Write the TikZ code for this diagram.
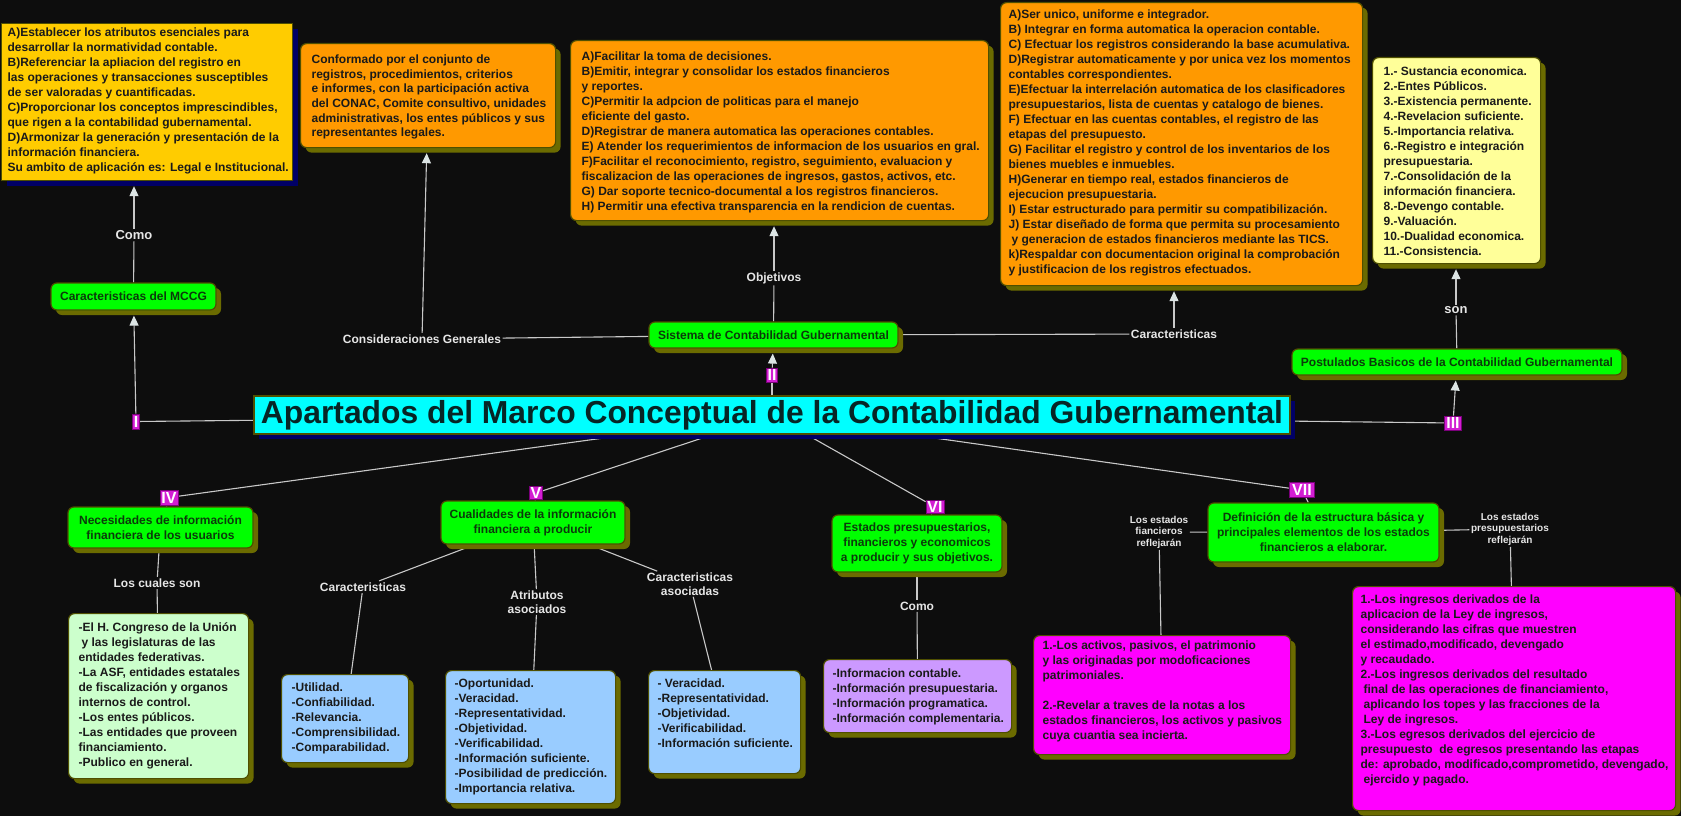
\documentclass[tikz,border=0pt]{standalone}
\usepackage{fontspec}
\usepackage{graphicx}
\setmainfont{Liberation Sans}
\usetikzlibrary{shadows,arrows.meta}
\pgfdeclarelayer{bgzero}
\pgfdeclarelayer{edges}
\pgfsetlayers{bgzero,edges,main}
\definecolor{bgc}{HTML}{0D0D0D}
\definecolor{yel}{HTML}{FFCC00}
\definecolor{ora}{HTML}{FF9900}
\definecolor{grn}{HTML}{00FF00}
\definecolor{lyel}{HTML}{FFFF99}
\definecolor{lgrn}{HTML}{CCFFCC}
\definecolor{lblu}{HTML}{99CCFF}
\definecolor{lavc}{HTML}{CC99FF}
\definecolor{mag}{HTML}{FF00FF}
\definecolor{cya}{HTML}{00FFFF}
\definecolor{numc}{HTML}{D21ED2}
\definecolor{numb}{HTML}{7A007A}
\definecolor{shol}{HTML}{6B6B00}
\definecolor{shnv}{HTML}{000066}
\definecolor{brd}{HTML}{4F4F00}
\definecolor{txd}{HTML}{1A1A1A}
\definecolor{txg}{HTML}{0B3B0B}
\definecolor{titc}{HTML}{062626}
\definecolor{linec}{HTML}{C8C8C8}
\definecolor{arrc}{HTML}{DCE4E4}
\definecolor{labc}{HTML}{E6E6E6}
\newcommand{\bxt}[3]{\makebox[#1][l]{\parbox[c][#2][t]{500pt}{\raggedright\rule{0pt}{10.5pt}#3}}}
\tikzset{
  tbox/.style={draw=brd, line width=1.2pt, rounded corners=6pt, inner sep=0pt, anchor=north west, text=txd,
    font=\bfseries\fontsize{12}{15}\selectfont, general shadow={fill=shol, shadow xshift=5pt, shadow yshift=-5pt}},
  gbox/.style={fill=grn, draw=brd, line width=1.2pt, rounded corners=6pt, inner sep=0pt, align=center, text=txg,
    font=\bfseries\fontsize{12}{15}\selectfont, general shadow={fill=shol, shadow xshift=5pt, shadow yshift=-5pt}},
  nbox/.style={fill=numc, draw=numb, line width=0.8pt, inner sep=0pt, text=white,
    font=\bfseries\fontsize{16}{16}\selectfont, text height=11.5pt, text depth=0pt},
  lbl/.style={text=labc, inner sep=1.5pt, align=center, font=\bfseries\fontsize{12}{13.5}\selectfont},
  slbl/.style={text=labc, inner sep=1.5pt, align=center, font=\bfseries\fontsize{10}{11.5}\selectfont},
  ed/.style={draw=linec, line width=1.1pt},
  arr/.style={ed, -{Triangle[width=9pt,length=10pt,fill=arrc,color=arrc]}, shorten >=5pt},
}
\begin{document}
\begin{tikzpicture}[x=1pt,y=-1pt]
\useasboundingbox (0,0) rectangle (1681,816);
\begin{pgfonlayer}{bgzero}
\fill[bgc] (0,0) rectangle (1681,816);
\end{pgfonlayer}

% title
\node[fill=cya, draw=brd, line width=1.5pt, minimum width=1036pt, minimum height=38pt, inner sep=0pt, text=titc,
  general shadow={fill=shnv, shadow xshift=5pt, shadow yshift=-5pt}] (title) at (772,415)
  {\resizebox{1022pt}{!}{\bfseries Apartados del Marco Conceptual de la Contabilidad Gubernamental}};

% top boxes
\node[tbox, fill=yel, rounded corners=0pt, inner xsep=6pt, inner ysep=2.8pt,
  general shadow={fill=shnv, shadow xshift=5pt, shadow yshift=-5pt}] (ybox) at (1,23)
  {\bxt{279pt}{151.4pt}{A)Establecer los atributos esenciales para\\
desarrollar la normatividad contable.\\
B)Referenciar la apliacion del registro en\\
las operaciones y transacciones susceptibles\\
de ser valoradas y cuantificadas.\\
C)Proporcionar los conceptos imprescindibles,\\
que rigen a la contabilidad gubernamental.\\
D)Armonizar la generación y presentación de la\\
información financiera.\\
Su ambito de aplicación es: Legal e Institucional.}};

\node[tbox, fill=ora, inner xsep=11pt, inner ysep=9.5pt, font=\bfseries\fontsize{12}{14.6}\selectfont] (box2) at (300,43)
  {\bxt{233pt}{85pt}{Conformado por el conjunto de\\
registros, procedimientos, criterios\\
e informes, con la participación activa\\
del CONAC, Comite consultivo, unidades\\
administrativas, los entes públicos y sus\\
representantes legales.}};

\node[tbox, fill=ora, inner xsep=11pt, inner ysep=9.5pt] (box3) at (570,40)
  {\bxt{396pt}{161pt}{A)Facilitar la toma de decisiones.\\
B)Emitir, integrar y consolidar los estados financieros\\
y reportes.\\
C)Permitir la adpcion de politicas para el manejo\\
eficiente del gasto.\\
D)Registrar de manera automatica las operaciones contables.\\
E) Atender los requerimientos de informacion de los usuarios en gral.\\
F)Facilitar el reconocimiento, registro, seguimiento, evaluacion y\\
fiscalizacion de las operaciones de ingresos, gastos, activos, etc.\\
G) Dar soporte tecnico-documental a los registros financieros.\\
H) Permitir una efectiva transparencia en la rendicion de cuentas.}};

\node[tbox, fill=ora, inner xsep=8pt, inner ysep=5.5pt] (box4) at (1000,2)
  {\bxt{346pt}{272pt}{A)Ser unico, uniforme e integrador.\\
B) Integrar en forma automatica la operacion contable.\\
C) Efectuar los registros considerando la base acumulativa.\\
D)Registrar automaticamente y por unica vez los momentos\\
contables correspondientes.\\
E)Efectuar la interrelación automatica de los clasificadores\\
presupuestarios, lista de cuentas y catalogo de bienes.\\
F) Efectuar en las cuentas contables, el registro de las\\
etapas del presupuesto.\\
G) Facilitar el registro y control de los inventarios de los\\
bienes muebles e inmuebles.\\
H)Generar en tiempo real, estados financieros de\\
ejecucion presupuestaria.\\
I) Estar estructurado para permitir su compatibilización.\\
J) Estar diseñado de forma que permita su procesamiento\\
\hspace*{3pt}y generacion de estados financieros mediante las TICS.\\
k)Respaldar con documentacion original la comprobación\\
y justificacion de los registros efectuados.}};

\node[tbox, fill=lyel, inner xsep=11pt, inner ysep=7.5pt] (box5) at (1372,57)
  {\bxt{146pt}{191pt}{1.- Sustancia economica.\\
2.-Entes Públicos.\\
3.-Existencia permanente.\\
4.-Revelacion suficiente.\\
5.-Importancia relativa.\\
6.-Registro e integración\\
presupuestaria.\\
7.-Consolidación de la\\
información financiera.\\
8.-Devengo contable.\\
9.-Valuación.\\
10.-Dualidad economica.\\
11.-Consistencia.}};

% green nodes
\node[gbox, minimum width=165pt, minimum height=27pt] (mccg) at (133.5,296.5) {Caracteristicas del MCCG};
\node[gbox, minimum width=249pt, minimum height=26pt] (sis) at (773.5,335) {Sistema de Contabilidad Gubernamental};
\node[gbox, minimum width=330pt, minimum height=26pt] (post) at (1457,362) {Postulados Basicos de la Contabilidad Gubernamental};
\node[gbox, minimum width=185pt, minimum height=41pt] (nec) at (160.5,527.5) {Necesidades de información\\financiera de los usuarios};
\node[gbox, minimum width=184pt, minimum height=43pt] (cual) at (533,522.5) {Cualidades de la información\\financiera a producir};
\node[gbox, minimum width=170pt, minimum height=57pt] (est) at (917,543.5) {Estados presupuestarios,\\financieros y economicos\\a producir y sus objetivos.};
\node[gbox, minimum width=231pt, minimum height=59pt] (def) at (1323.5,532.5) {Definición de la estructura básica y\\principales elementos de los estados\\financieros a elaborar.};

% numerals
\node[nbox, minimum width=7pt, minimum height=15pt] (nI) at (136,421.5) {I};
\node[nbox, minimum width=11pt, minimum height=14pt] (nII) at (772,375) {II};
\node[nbox, minimum width=17pt, minimum height=14pt] (nIII) at (1453,423) {III};
\node[nbox, minimum width=18pt, minimum height=15pt] (nIV) at (169,497.5) {IV};
\node[nbox, minimum width=13pt, minimum height=13pt] (nV) at (536,493) {V};
\node[nbox, minimum width=18pt, minimum height=13pt] (nVI) at (935,507) {VI};
\node[nbox, minimum width=25pt, minimum height=15pt] (nVII) at (1302,490) {VII};

% bottom boxes
\node[tbox, fill=lgrn, inner xsep=10pt, inner ysep=7.5pt] (lgbox) at (68,613)
  {\bxt{160pt}{150pt}{-El H. Congreso de la Unión\\
\hspace*{3pt}y las legislaturas de las\\
entidades federativas.\\
-La ASF, entidades estatales\\
de fiscalización y organos\\
internos de control.\\
-Los entes públicos.\\
-Las entidades que proveen\\
financiamiento.\\
-Publico en general.}};

\node[tbox, fill=lblu, inner xsep=10pt, inner ysep=6.5pt] (blue1) at (281,674)
  {\bxt{107pt}{75pt}{-Utilidad.\\-Confiabilidad.\\-Relevancia.\\-Comprensibilidad.\\-Comparabilidad.}};

\node[tbox, fill=lblu, inner xsep=9pt, inner ysep=6.5pt] (blue2) at (445,670)
  {\bxt{152pt}{120pt}{-Oportunidad.\\-Veracidad.\\-Representatividad.\\-Objetividad.\\-Verificabilidad.\\-Información suficiente.\\-Posibilidad de predicción.\\-Importancia relativa.}};

\node[tbox, fill=lblu, inner xsep=9pt, inner ysep=6.5pt] (blue3) at (648,670)
  {\bxt{134pt}{90pt}{- Veracidad.\\-Representatividad.\\-Objetividad.\\-Verificabilidad.\\-Información suficiente.}};

\node[tbox, fill=lavc, inner xsep=9pt, inner ysep=7.5pt] (lav) at (823,659)
  {\bxt{170pt}{58pt}{-Informacion contable.\\-Información presupuestaria.\\-Información programatica.\\-Información complementaria.}};

\node[tbox, fill=mag, inner xsep=9pt, inner ysep=3.5pt] (mag1) at (1033,635)
  {\bxt{239pt}{112pt}{1.-Los activos, pasivos, el patrimonio\\
y las originadas por modoficaciones\\
patrimoniales.\\[15pt]
2.-Revelar a traves de la notas a los\\
estados financieros, los activos y pasivos\\
cuya cuantia sea incierta.}};

\node[tbox, fill=mag, inner xsep=8pt, inner ysep=6.5pt] (mag2) at (1352,586)
  {\bxt{307pt}{211pt}{1.-Los ingresos derivados de la\\
aplicacion de la Ley de ingresos,\\
considerando las cifras que muestren\\
el estimado,modificado, devengado\\
y recaudado.\\
2.-Los ingresos derivados del resultado\\
\hspace*{3pt}final de las operaciones de financiamiento,\\
\hspace*{3pt}aplicando los topes y las fracciones de la\\
\hspace*{3pt}Ley de ingresos.\\
3.-Los egresos derivados del ejercicio de\\
presupuesto\ \ de egresos presentando las etapas\\
de: aprobado, modificado,comprometido, devengado,\\
\hspace*{3pt}ejercido y pagado.}};

% labels
\node[lbl, font=\bfseries\fontsize{13}{14}\selectfont] (como1) at (134,235) {Como};
\node[lbl] (consid) at (422,339) {Consideraciones Generales};
\node[lbl] (obj) at (774,278) {Objetivos};
\node[lbl] (car1) at (1174,334) {Caracteristicas};
\node[lbl, font=\bfseries\fontsize{13}{14}\selectfont] (son) at (1456,310) {son};
\node[lbl] (cuales) at (157,583) {Los cuales son};
\node[lbl] (car2) at (363,587) {Caracteristicas};
\node[lbl] (atr) at (537,602) {Atributos\\asociados};
\node[lbl] (cara) at (690,584) {Caracteristicas\\asociadas};
\node[lbl] (como2) at (917,606) {Como};
\node[slbl] (lef) at (1159,532) {Los estados\\fiancieros\\reflejarán};
\node[slbl] (lep) at (1510,529) {Los estados\\presupuestarios\\reflejarán};

% connectors
\begin{pgfonlayer}{edges}
\draw[ed] (title.center) -- (nI);
\draw[ed] (title.center) -- (nII);
\draw[ed] (title.center) -- (nIII);
\draw[ed] (title.center) -- (nIV);
\draw[ed] (title.center) -- (nV);
\draw[ed] (title.center) -- (nVI);
\draw[ed] (title.center) -- (nVII);
\draw[arr] (nI) -- (mccg);
\draw[ed] (mccg) -- (como1);
\draw[arr] (como1) -- (como1 |- ybox.south);
\draw[arr] (nII) -- (sis);
\draw[ed] (sis) -- (consid);
\draw[arr] (consid) -- (box2);
\draw[ed] (sis) -- (obj);
\draw[arr] (obj) -- (obj |- box3.south);
\draw[ed] (sis) -- (car1);
\draw[arr] (car1) -- (car1 |- box4.south);
\draw[arr] (nIII) -- (post);
\draw[ed] (post) -- (son);
\draw[arr] (son) -- (son |- box5.south);
\draw[ed] (nIV) -- (nec);
\draw[ed] (nec) -- (cuales);
\draw[ed] (cuales) -- (lgbox);
\draw[ed] (nV) -- (cual);
\draw[ed] (cual) -- (car2);
\draw[ed] (car2) -- (blue1);
\draw[ed] (cual) -- (atr);
\draw[ed] (atr) -- (blue2);
\draw[ed] (cual) -- (cara);
\draw[ed] (cara) -- (blue3);
\draw[ed] (nVI) -- (est);
\draw[ed] (est) -- (como2);
\draw[ed] (como2) -- (lav);
\draw[ed] (nVII) -- (def);
\draw[ed] (def) -- (lef);
\draw[ed] (lef) -- (mag1);
\draw[ed] (def) -- (lep);
\draw[ed] (lep) -- (mag2);
\end{pgfonlayer}
\end{tikzpicture}
\end{document}
